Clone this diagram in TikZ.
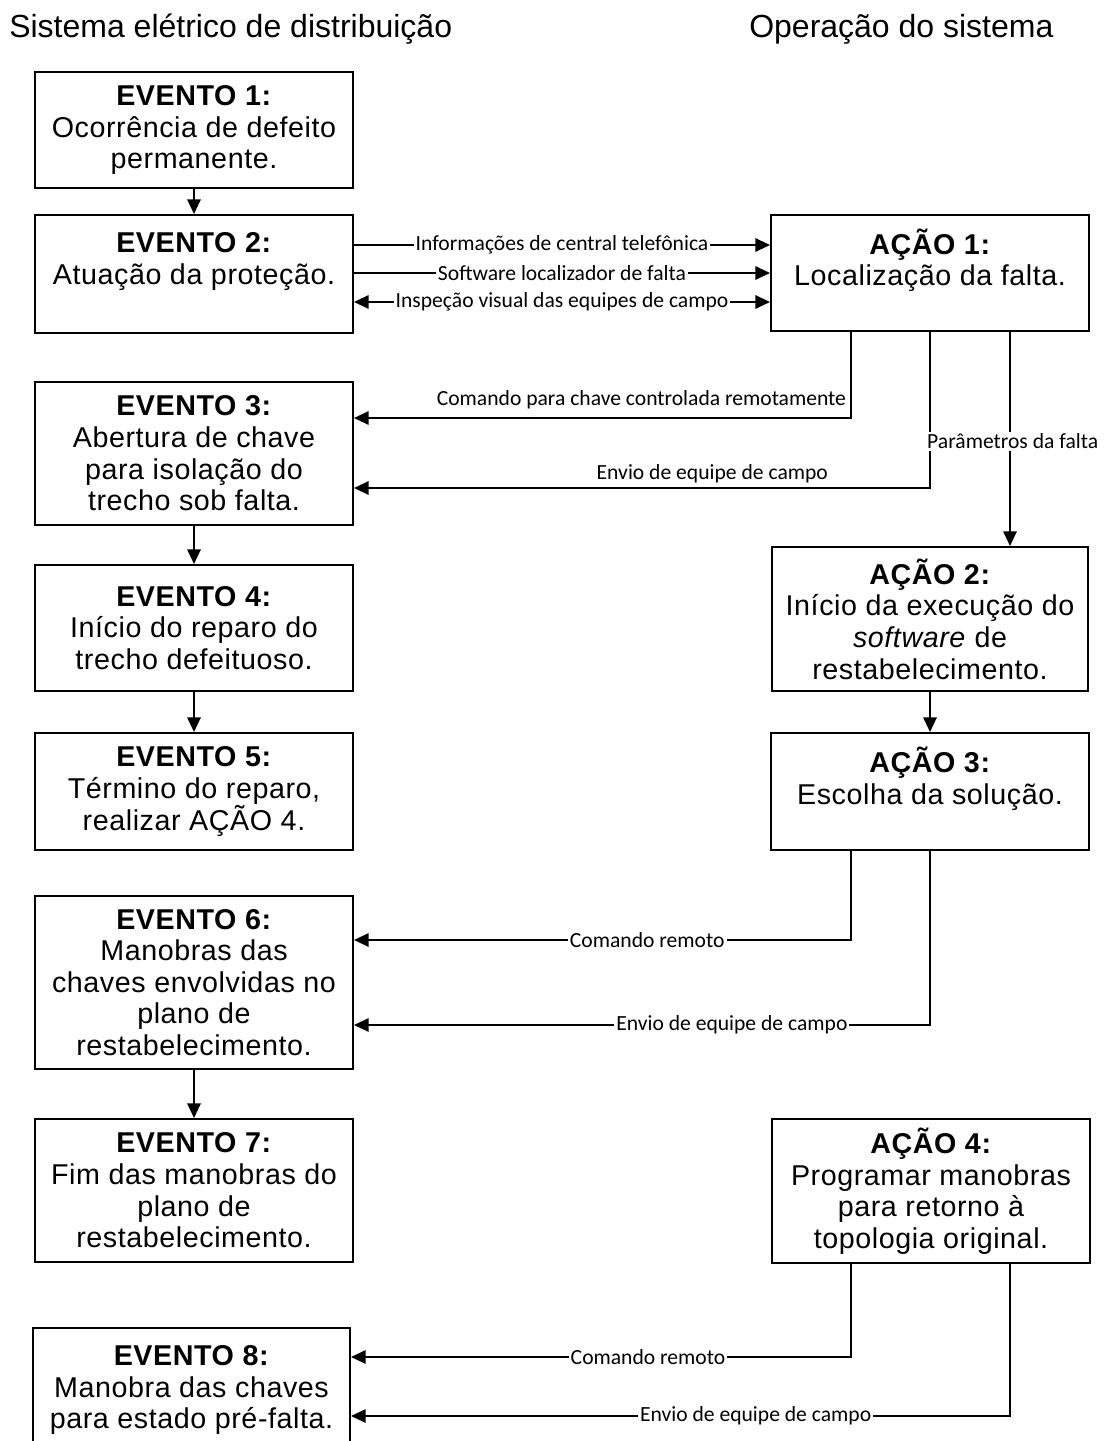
\documentclass[tikz,border=0pt]{standalone}
\usepackage{fontspec}
\setmainfont{Liberation Sans}
\newfontfamily\boxfont{Liberation Sans}[LetterSpace=2]
\newfontfamily\lblfont{Carlito}
\usetikzlibrary{arrows.meta}
\begin{document}
\begin{tikzpicture}[x=0.75pt,y=-0.75pt,
  box/.style={draw, line width=1.5pt, align=center, inner sep=0pt,
    minimum width=318*0.75pt, font=\boxfont\fontsize{21.5}{23.7}\selectfont},
  tip/.tip={Triangle[length=11pt,width=10pt]},
  link/.style={line width=1.5pt, -tip},
  twoway/.style={line width=1.5pt, tip-tip},
  lbl/.style={font=\lblfont\fontsize{16.2}{19}\selectfont, fill=white, inner sep=1.5pt},
  lbltop/.style={font=\lblfont\fontsize{16.2}{19}\selectfont, inner sep=1pt},
  ttl/.style={font=\fontsize{24}{28}\selectfont, inner sep=0pt}]

\useasboundingbox (0,0) rectangle (1105,1441);
\clip (0,0) rectangle (1105,1441);

% column headings
\node[ttl, anchor=west] (tleft) at (9,29) {Sistema elétrico de distribuição};
\node[ttl, anchor=west] (tright) at (749,29) {Operação do sistema};

% events of the distribution system
\node[box, minimum height=116*0.75pt] (e1) at (194,130)
  {\textbf{EVENTO 1:}\\Ocorrência de defeito\\permanente.};
\node[box, minimum height=118*0.75pt] (e2) at (194,274)
  {\textbf{EVENTO 2:}\\Atuação da proteção.\\\mbox{}};
\node[box, minimum height=143*0.75pt] (e3) at (194,453.5)
  {\textbf{EVENTO 3:}\\Abertura de chave\\para isolação do\\trecho sob falta.};
\node[box, minimum height=126*0.75pt] (e4) at (194,628)
  {\textbf{EVENTO 4:}\\Início do reparo do\\trecho defeituoso.};
\node[box, minimum height=117*0.75pt] (e5) at (194,791.5)
  {\textbf{EVENTO 5:}\\Término do reparo,\\realizar AÇÃO 4.};
\node[box, minimum height=173*0.75pt] (e6) at (194,982.5)
  {\textbf{EVENTO 6:}\\Manobras das\\chaves envolvidas no\\plano de\\restabelecimento.};
\node[box, minimum height=143*0.75pt] (e7) at (194,1190.5)
  {\textbf{EVENTO 7:}\\Fim das manobras do\\plano de\\restabelecimento.};
\node[box, minimum width=317*0.75pt, minimum height=124*0.75pt] (e8) at (191.5,1390)
  {\textbf{EVENTO 8:}\\Manobra das chaves\\para estado pré-falta.};

% actions of the system operation
\node[box, minimum height=116*0.75pt] (a1) at (930,273)
  {\textbf{AÇÃO 1:}\\Localização da falta.\\\mbox{}};
\node[box, minimum width=316*0.75pt, minimum height=144*0.75pt] (a2) at (930,619)
  {\textbf{AÇÃO 2:}\\Início da execução do\\\textit{software} de\\restabelecimento.};
\node[box, minimum height=117*0.75pt] (a3) at (930,791.5)
  {\textbf{AÇÃO 3:}\\Escolha da solução.\\\mbox{}};
\node[box, minimum height=144*0.75pt] (a4) at (931,1191)
  {\textbf{AÇÃO 4:}\\Programar manobras\\para retorno à\\topologia original.};

% reference levels
\coordinate (h245) at (0,245);
\coordinate (h273) at (0,273);
\coordinate (h302) at (0,302);
\coordinate (h418) at (0,418);
\coordinate (h488) at (0,488);
\coordinate (h940) at (0,940);
\coordinate (h1025) at (0,1025);
\coordinate (h1357) at (0,1357);
\coordinate (h1416) at (0,1416);
\coordinate (v851) at (851,0);
\coordinate (v930) at (930,0);
\coordinate (v1010) at (1010,0);

% sequence of events
\draw[link] (e1) -- (e2);
\draw[link] (e3) -- (e4);
\draw[link] (e4) -- (e5);
\draw[link] (e6) -- (e7);
\draw[link] (a2) -- (a3);

% information reaching the operation
\draw[link] (e2.east |- h245) -- node[lbl] {Informações de central telefônica} (a1.west |- h245);
\draw[link] (e2.east |- h273) -- node[lbl] {Software localizador de falta} (a1.west |- h273);
\draw[twoway] (e2.east |- h302) -- node[lbl] {Inspeção visual das equipes de campo} (a1.west |- h302);

% fault isolation
\draw[link] (a1.south -| v851) |- node[lbltop, pos=0.5, anchor=base east, xshift=-2pt, yshift=9.5pt]
  {Comando para chave controlada remotamente} (e3.east |- h418);
\draw[link] (a1.south -| v930) |- node[lbltop, pos=0.689, anchor=base, yshift=6.5pt]
  {Envio de equipe de campo} (e3.east |- h488);
\draw[link] (a1.south -| v1010) -- node[lbl, pos=0.51, xshift=2pt] {Parâmetros da falta} (a2.north -| v1010);

% restoration manoeuvres
\draw[link] (a3.south -| v851) |- node[lbl, pos=0.705] {Comando remoto} (e6.east |- h940);
\draw[link] (a3.south -| v930) |- node[lbl, pos=0.672] {Envio de equipe de campo} (e6.east |- h1025);

% return to the original topology
\draw[link] (a4.south -| v851) |- node[lbl, pos=0.703] {Comando remoto} (e8.east |- h1357);
\draw[link] (a4.south -| v1010) |- node[lbl, pos=0.693] {Envio de equipe de campo} (e8.east |- h1416);
\end{tikzpicture}
\end{document}
